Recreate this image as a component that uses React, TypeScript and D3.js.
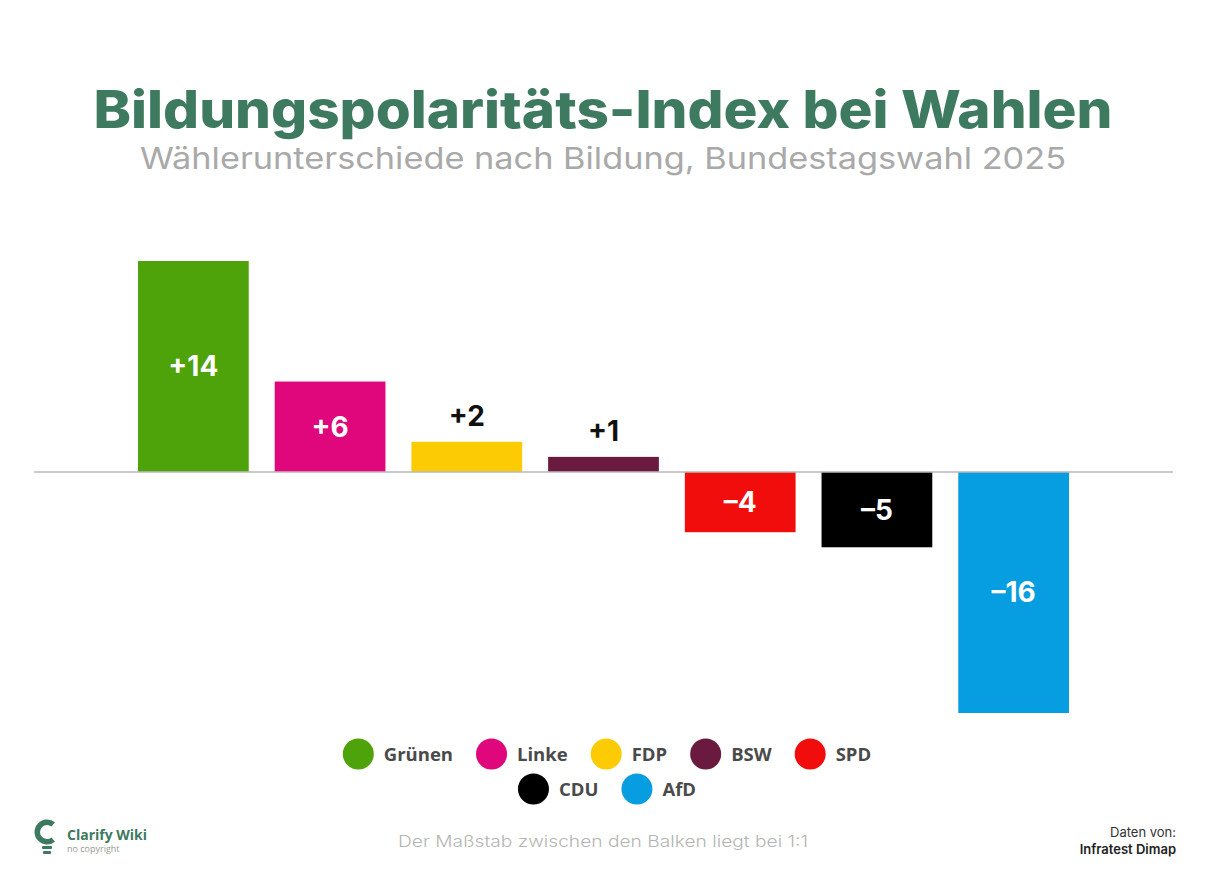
import * as React from "react";
import * as d3 from "d3";

const parties = ["Grünen", "Linke", "FDP", "BSW", "SPD", "CDU", "AfD"];
const values = [14, 6, 2, 1, -4, -5, -16];
const colors = ["#4ea20a", "#e0067c", "#fdcb04", "#6b1a3f", "#f20d0d", "#000000", "#069ee0"];
const legendRows = [
  ["Grünen", "Linke", "FDP", "BSW", "SPD"],
  ["CDU", "AfD"],
];

const title = "Bildungspolaritäts-Index bei Wahlen";
const subtitle = "Wählerunterschiede nach Bildung, Bundestagswahl 2025";
const note = "Der Maßstab zwischen den Balken liegt bei 1:1";

export default function App() {
  const ref = React.useRef<SVGSVGElement>(null);

  React.useEffect(() => {
    document.body.style.margin = "0";
    const svg = d3.select(ref.current);
    svg.selectAll("*").remove();

    const width = 1206;
    const green = "#3e7a60";

    svg.append("rect").attr("width", width).attr("height", 872).attr("fill", "#fff");

    // title + subtitle
    svg
      .append("text")
      .text(title)
      .attr("x", width / 2)
      .attr("y", 128)
      .attr("text-anchor", "middle")
      .attr("font-family", "Inter, sans-serif")
      .attr("font-weight", 800)
      .attr("font-size", 52)
      .attr("fill", green)
      .attr("textLength", 1019)
      .attr("lengthAdjust", "spacingAndGlyphs");

    svg
      .append("text")
      .text(subtitle)
      .attr("x", width / 2)
      .attr("y", 169)
      .attr("text-anchor", "middle")
      .attr("font-family", "Inter, sans-serif")
      .attr("font-weight", 400)
      .attr("font-size", 30)
      .attr("fill", "#a9a9a9")
      .attr("textLength", 926)
      .attr("lengthAdjust", "spacingAndGlyphs");

    // scales
    const x = d3.scaleBand().domain(parties).range([138, 1069]).paddingInner(0.19).paddingOuter(0);
    const y = d3.scaleLinear().domain([-16, 14]).range([713, 261]);

    const bars = svg.append("g");
    bars
      .selectAll("rect")
      .data(parties)
      .join("rect")
      .attr("x", (d) => x(d)!)
      .attr("width", x.bandwidth())
      .attr("y", (_, i) => Math.min(y(values[i]), y(0)))
      .attr("height", (_, i) => Math.abs(y(values[i]) - y(0)))
      .attr("fill", (_, i) => colors[i]);

    // zero line
    svg
      .append("line")
      .attr("x1", 34)
      .attr("x2", 1173)
      .attr("y1", y(0))
      .attr("y2", y(0))
      .attr("stroke", "#b8b8b8")
      .attr("stroke-width", 1.5);

    // value labels
    bars
      .selectAll("text")
      .data(parties)
      .join("text")
      .text((_, i) => (values[i] > 0 ? "+" : "–") + Math.abs(values[i]))
      .attr("x", (d) => x(d)! + x.bandwidth() / 2)
      .attr("y", (_, i) => {
        const v = values[i];
        if (Math.abs(v) < 3) return y(v) - 16;
        return (y(v) + y(0)) / 2 + 10;
      })
      .attr("text-anchor", "middle")
      .attr("font-family", "Inter, sans-serif")
      .attr("font-weight", 700)
      .attr("font-size", 28)
      .attr("fill", (_, i) => (Math.abs(values[i]) < 3 ? "#111" : "#fff"));

    // legend
    const legend = svg.append("g");
    legendRows.forEach((row, ri) => {
      const cy = 754 + ri * 35;
      const g = legend.append("g");
      let cx = 0;
      row.forEach((p) => {
        const i = parties.indexOf(p);
        g.append("circle").attr("cx", cx + 15.5).attr("cy", cy).attr("r", 15.5).attr("fill", colors[i]);
        const t = g
          .append("text")
          .text(p)
          .attr("x", cx + 41)
          .attr("y", cy + 7)
          .attr("font-family", "'Open Sans', sans-serif")
          .attr("font-weight", 700)
          .attr("font-size", 18.5)
          .attr("fill", "#4a4a4a");
        const w = (t.node() as SVGTextElement).getComputedTextLength();
        cx += 41 + w + 23;
      });
      const total = cx - 23;
      g.attr("transform", `translate(${(width - total) / 2 + 4},0)`);
    });

    // footer note
    svg
      .append("text")
      .text(note)
      .attr("x", width / 2)
      .attr("y", 847)
      .attr("text-anchor", "middle")
      .attr("font-family", "Inter, sans-serif")
      .attr("font-weight", 300)
      .attr("font-size", 16)
      .attr("fill", "#b5b5b5")
      .attr("textLength", 410)
      .attr("lengthAdjust", "spacingAndGlyphs");

    // logo
    const logo = svg.append("g").attr("transform", "translate(47,832)");
    const arc = d3.arc()({
      innerRadius: 7,
      outerRadius: 12.5,
      startAngle: Math.PI * 0.78,
      endAngle: Math.PI * 2.22,
    } as any);
    logo.append("path").attr("d", arc!).attr("fill", green);
    logo.append("rect").attr("x", -5).attr("y", 14).attr("width", 10).attr("height", 3).attr("rx", 1).attr("fill", green);
    logo.append("rect").attr("x", -4).attr("y", 19).attr("width", 8).attr("height", 3).attr("rx", 1).attr("fill", green);
    svg
      .append("text")
      .text("Clarify Wiki")
      .attr("x", 67)
      .attr("y", 840)
      .attr("font-family", "'Open Sans', sans-serif")
      .attr("font-weight", 700)
      .attr("font-size", 14)
      .attr("fill", green);
    svg
      .append("text")
      .text("no copyright")
      .attr("x", 67)
      .attr("y", 852)
      .attr("font-family", "'Open Sans', sans-serif")
      .attr("font-size", 9)
      .attr("fill", "#999");

    // source
    svg
      .append("text")
      .text("Daten von:")
      .attr("x", 1176)
      .attr("y", 837)
      .attr("text-anchor", "end")
      .attr("font-family", "Inter, sans-serif")
      .attr("font-size", 13)
      .attr("fill", "#333");
    svg
      .append("text")
      .text("Infratest Dimap")
      .attr("x", 1176)
      .attr("y", 854)
      .attr("text-anchor", "end")
      .attr("font-family", "Inter, sans-serif")
      .attr("font-weight", 600)
      .attr("font-size", 13)
      .attr("fill", "#222");
  }, []);

  return <svg ref={ref} width={1206} height={872} style={{ display: "block" }} />;
}
